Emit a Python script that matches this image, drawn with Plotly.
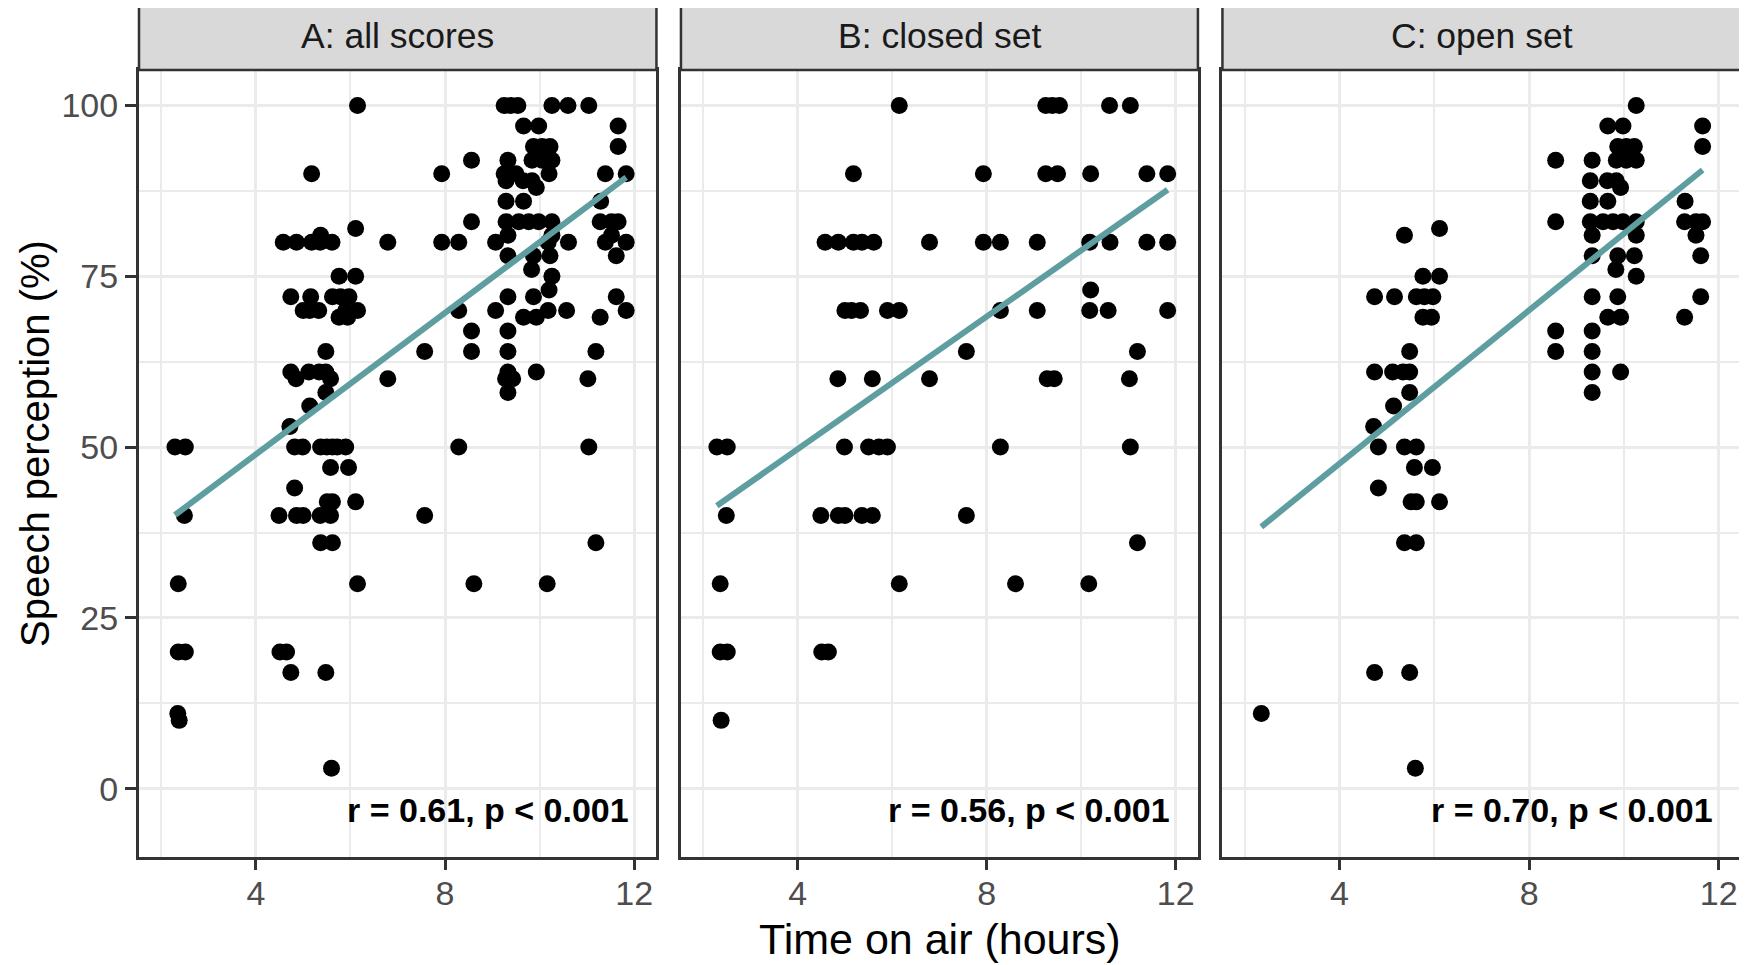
import numpy as np
import plotly.graph_objects as go

# ---------------- data ----------------
closed_x = [6.15, 9.25, 9.39, 9.54, 10.6, 11.04,
            5.18, 7.93, 9.25, 9.5, 10.2, 11.39, 11.83,
            4.58, 4.86, 5.18, 5.36, 5.61, 6.79, 7.93, 8.29, 9.07, 10.18, 10.61, 11.39, 11.83,
            10.2,
            5.0, 5.14, 5.33, 5.9, 6.15, 8.29, 9.07, 10.18, 10.57, 11.83,
            7.57, 11.19,
            4.85, 5.58, 6.79, 9.28, 9.43, 11.02,
            2.29, 2.51, 4.99, 5.5, 5.72, 5.9, 8.29, 11.04,
            2.49, 4.49, 4.86, 5.0, 5.36, 5.58, 7.57,
            11.19,
            2.36, 6.15, 8.61, 10.16,
            2.36, 2.51, 4.51, 4.65,
            2.38]
closed_y = [100, 100, 100, 100, 100, 100,
            90, 90, 90, 90, 90, 90, 90,
            80, 80, 80, 80, 80, 80, 80, 80, 80, 80, 80, 80, 80,
            73,
            70, 70, 70, 70, 70, 70, 70, 70, 70, 70,
            64, 64,
            60, 60, 60, 60, 60, 60,
            50, 50, 50, 50, 50, 50, 50, 50,
            40, 40, 40, 40, 40, 40, 40,
            36,
            30, 30, 30, 30,
            20, 20, 20, 20,
            10]

open_x = [10.26,
          9.66, 9.98, 11.66,
          9.87, 10.05, 10.22, 11.66,
          8.56, 9.33, 9.84, 10.05, 10.26,
          9.29, 9.65, 9.84,
          9.93,
          9.29, 9.66, 11.29,
          8.56, 9.29, 9.56, 9.77, 9.98, 10.26, 11.28, 11.52, 11.66,
          9.33, 10.26, 11.52,
          9.33, 9.87, 10.22, 11.62,
          9.83, 10.26,
          9.33, 9.87, 11.62,
          9.66, 9.93, 11.28,
          8.56, 9.33,
          8.56, 9.33,
          9.33, 9.93,
          9.33,
          6.11, 5.37, 5.76, 6.11,
          4.74, 5.16, 5.62, 5.79, 5.97,
          5.76, 5.94,
          5.48,
          4.74, 5.12, 5.34, 5.48,
          5.48, 5.14, 4.72,
          4.82, 5.37, 5.62,
          5.58, 5.96,
          4.82,
          5.51, 5.62, 6.11,
          5.37, 5.62,
          4.74, 5.48,
          2.35,
          5.6]
open_y = [100,
          97, 97, 97,
          94, 94, 94, 94,
          92, 92, 92, 92, 92,
          89, 89, 89,
          88,
          86, 86, 86,
          83, 83, 83, 83, 83, 83, 83, 83, 83,
          81, 81, 81,
          78, 78, 78, 78,
          76, 75,
          72, 72, 72,
          69, 69, 69,
          67, 67,
          64, 64,
          61, 61,
          58,
          82, 81, 75, 75,
          72, 72, 72, 72, 72,
          69, 69,
          64,
          61, 61, 61, 61,
          58, 56, 53,
          50, 50, 50,
          47, 47,
          44,
          42, 42, 42,
          36, 36,
          17, 17,
          11,
          3]

panel_titles = ["A: all scores", "B: closed set", "C: open set"]
cor_labels = ["r = 0.61, p < 0.001", "r = 0.56, p < 0.001", "r = 0.70, p < 0.001"]
# linear-fit parameters (slope, intercept)
fit_slope = [5.18, 4.85, 5.61]
fit_intercept = [28.2, 30.3, 25.15]
x_ticks = [4, 8, 12]
y_ticks = [0, 25, 50, 75, 100]

panels = [
    (closed_x + open_x, closed_y + open_y),
    (closed_x, closed_y),
    (open_x, open_y),
]

# ---------------- layout geometry ----------------
# page body has an 8px margin, so the figure is shifted by 8px
OFF = 8
W, H = 1747 - OFF, 965 - OFF
ML, MR, MT, MB = 139 - OFF, 3, 70 - OFF, 108
PW = W - ML - MR
PH = H - MT - MB
domains = [[0.0, 0.323], [0.3383, 0.661], [0.6763, 1.0]]
XR = [1.53, 12.47]
YR = [-10.0, 105.2]

FONT = "Liberation Sans, Arial, sans-serif"
GRID = "#EBEBEB"
BORDER = "#333333"
LINE_COL = "#5F9EA0"

fig = go.Figure()
for i, (px, py) in enumerate(panels):
    xa = "x" if i == 0 else f"x{i+1}"
    ya = "y" if i == 0 else f"y{i+1}"
    fig.add_trace(go.Scatter(x=px, y=py, mode="markers", xaxis=xa, yaxis=ya,
                             marker=dict(color="black", size=17, line=dict(width=0)),
                             showlegend=False, hoverinfo="skip"))
    xarr = np.array(px, dtype=float)
    xs = np.array([xarr.min(), xarr.max()])
    fig.add_trace(go.Scatter(x=xs, y=fit_intercept[i] + fit_slope[i] * xs, mode="lines",
                             xaxis=xa, yaxis=ya,
                             line=dict(color=LINE_COL, width=6),
                             showlegend=False, hoverinfo="skip"))

for i in range(3):
    xkey = "xaxis" if i == 0 else f"xaxis{i+1}"
    ykey = "yaxis" if i == 0 else f"yaxis{i+1}"
    yanchor = "y" if i == 0 else f"y{i+1}"
    xanchor = "x" if i == 0 else f"x{i+1}"
    fig.layout[xkey] = dict(
        domain=domains[i], anchor=yanchor, range=XR,
        tickvals=x_ticks, ticktext=[str(v) for v in x_ticks],
        ticks="outside", ticklen=10, tickwidth=3, tickcolor=BORDER,
        ticklabelstandoff=-6,
        tickfont=dict(family=FONT, size=34, color="#4D4D4D"),
        showgrid=True, gridcolor=GRID, gridwidth=3,
        minor=dict(tickvals=[2, 6, 10], showgrid=True, gridcolor=GRID, gridwidth=1.5, ticks=""),
        showline=True, linecolor=BORDER, linewidth=3, mirror=True,
        zeroline=False, fixedrange=True,
    )
    fig.layout[ykey] = dict(
        domain=[0, 1], anchor=xanchor, range=YR,
        tickvals=y_ticks, ticktext=[str(v) for v in y_ticks],
        showticklabels=(i == 0),
        ticks="outside" if i == 0 else "", ticklen=11, tickwidth=3, tickcolor=BORDER,
        tickfont=dict(family=FONT, size=34, color="#4D4D4D"),
        showgrid=True, gridcolor=GRID, gridwidth=3,
        minor=dict(tickvals=[12.5, 37.5, 62.5, 87.5], showgrid=True, gridcolor=GRID, gridwidth=1.5, ticks=""),
        showline=True, linecolor=BORDER, linewidth=3, mirror=True,
        zeroline=False, fixedrange=True,
    )

shapes = []
annotations = []
strip_h = 67 / PH
for i in range(3):
    xd = "x domain" if i == 0 else f"x{i+1} domain"
    xr = "x" if i == 0 else f"x{i+1}"
    yr = "y" if i == 0 else f"y{i+1}"
    shapes.append(dict(type="rect", xref=xd, yref="paper", x0=0, x1=1, y0=1.0, y1=1.0 + strip_h,
                       fillcolor="#D9D9D9", line=dict(color=BORDER, width=2.5), layer="above"))
    annotations.append(dict(xref=xd, yref="paper", x=0.5, y=1.0 + strip_h / 2,
                            text=panel_titles[i], showarrow=False,
                            font=dict(family=FONT, size=35.5, color="#1A1A1A"),
                            xanchor="center", yanchor="middle"))
    annotations.append(dict(xref=xr, yref=yr, x=11.93, y=-3.1, text="<b>" + cor_labels[i] + "</b>",
                            showarrow=False, xanchor="right", yanchor="middle",
                            font=dict(family=FONT, size=34, color="black")))

annotations.append(dict(xref="paper", yref="paper", x=(35 - OFF - ML) / PW, y=0.525,
                        text="Speech perception (%)", textangle=-90, showarrow=False,
                        xanchor="center", yanchor="middle",
                        font=dict(family=FONT, size=40, color="black")))
annotations.append(dict(xref="paper", yref="paper", x=0.5, y=-82 / PH,
                        text="Time on air (hours)", showarrow=False,
                        xanchor="center", yanchor="middle",
                        font=dict(family=FONT, size=43, color="black")))

fig.update_layout(
    width=W, height=H,
    margin=dict(l=ML, r=MR, t=MT, b=MB, pad=0),
    paper_bgcolor="white", plot_bgcolor="white",
    shapes=shapes, annotations=annotations,
    showlegend=False,
)

fig.write_html("out.html")
